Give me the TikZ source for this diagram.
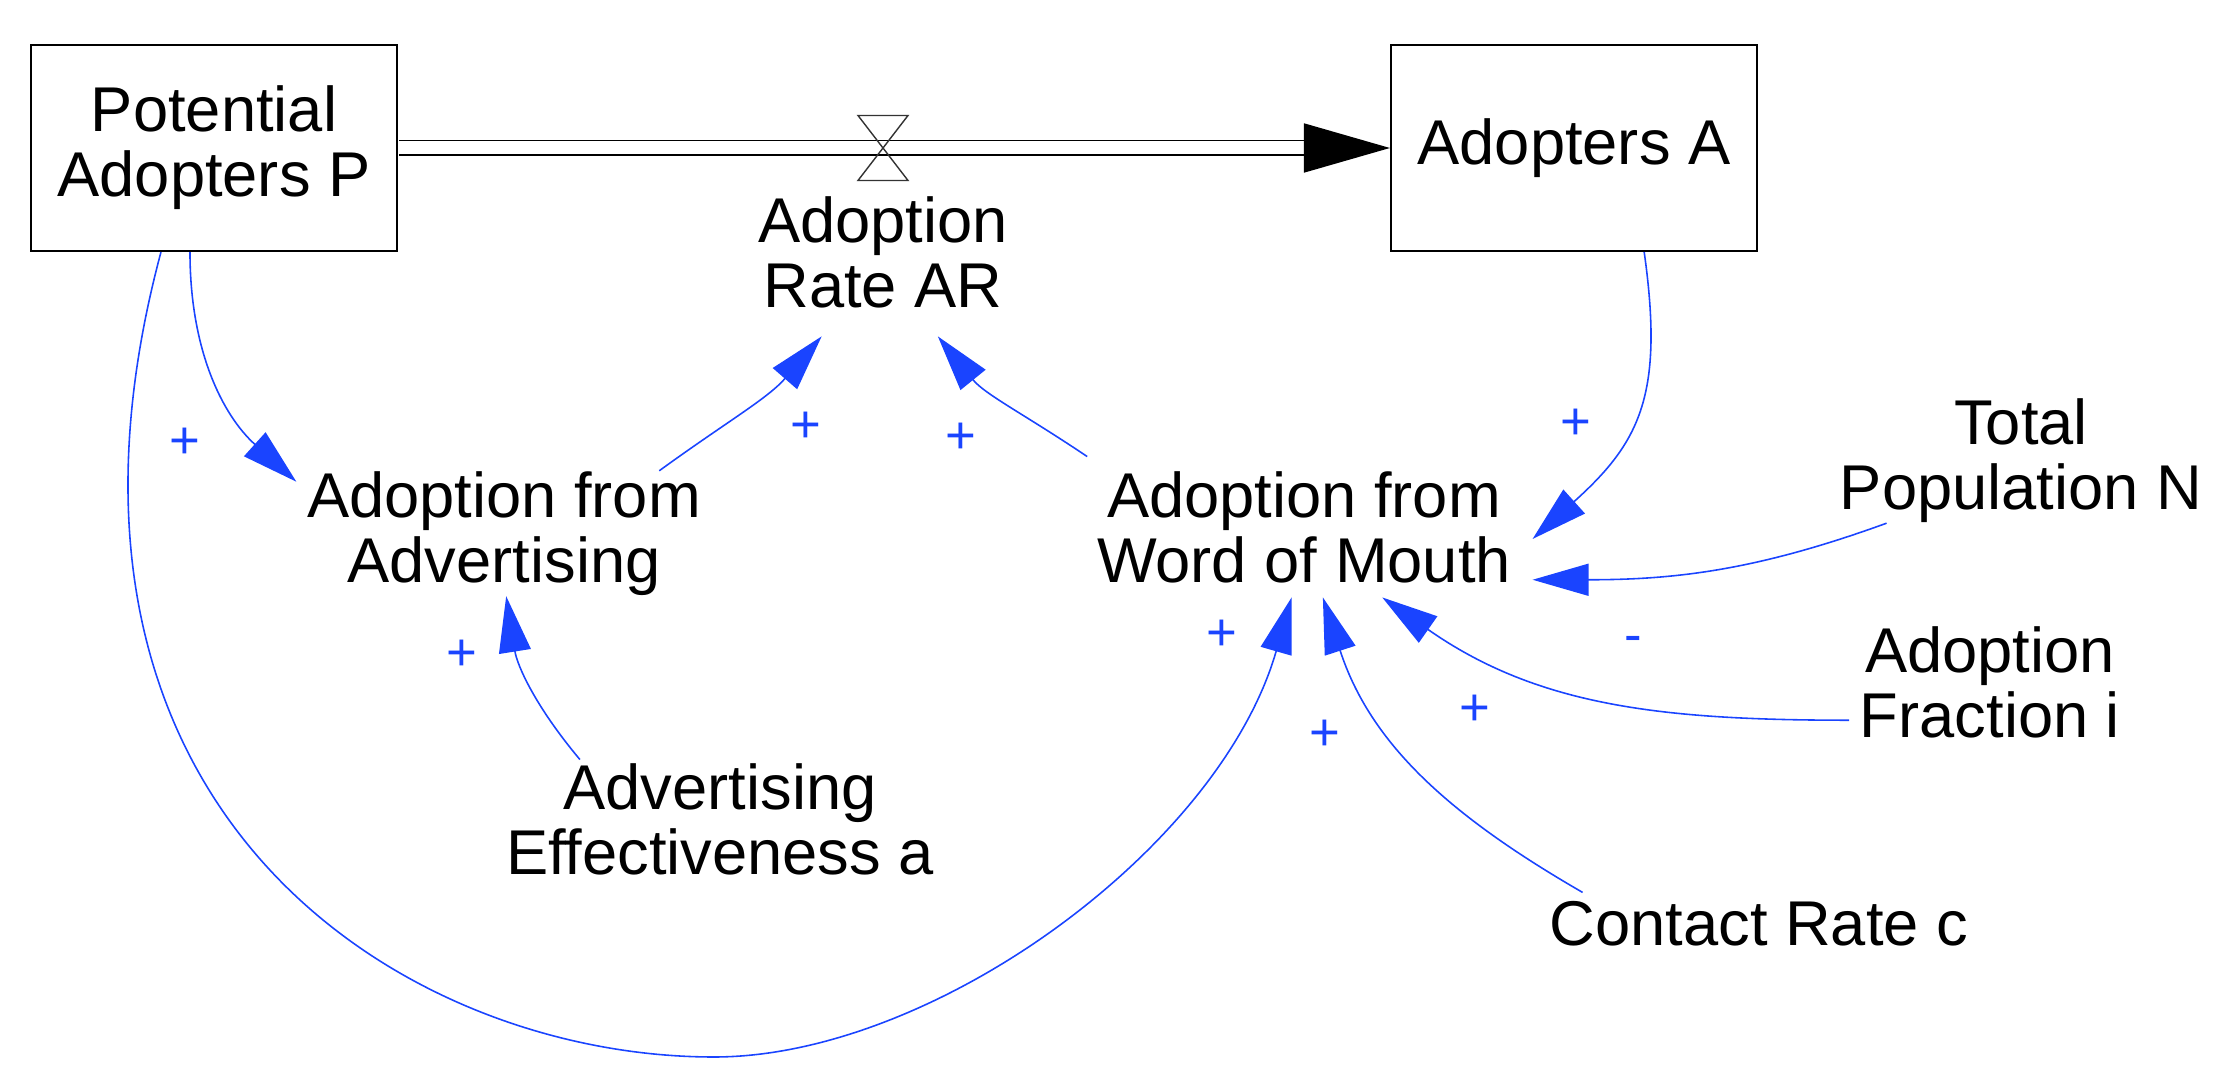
\documentclass[tikz,border=0pt]{standalone}
\usepackage{fontspec}
\setmainfont{Liberation Sans}
\usepackage{xcolor}
\definecolor{linkblue}{HTML}{1A44FF}
\definecolor{valvegray}{HTML}{333333}
\usepackage{tikz}
\usetikzlibrary{arrows.meta, positioning}

\begin{document}
\begin{tikzpicture}[
  stock/.style={draw, line width=0.6pt, minimum width=3.66cm, minimum height=2.06cm,
    align=center, font=\fontsize{18}{18.5}\selectfont},
  var/.style={align=center, inner xsep=0.1cm, inner ysep=0pt,
    font=\fontsize{18}{18.5}\selectfont},
  link/.style={linkblue, line width=0.45pt, -{Triangle[length=0.56cm, width=0.32cm]}},
  pol/.style={text=linkblue, inner sep=0pt, font=\fontsize{15}{15}\selectfont},
  pipe/.style={line width=0.5pt, double distance=0.13cm, shorten <=0.4pt,
    -{Triangle[length=0.86cm, width=0.49cm]}}
]
  \useasboundingbox (0,0) rectangle (22.30,-10.86);

  \node[stock] (stockP) at (2.14,-1.48) {Potential\\Adopters P};
  \node[stock] (stockA) at (15.74,-1.48) {Adopters A};

  \draw[pipe] (stockP.east) -- (stockA.west);
  \coordinate (valve) at (8.83,-1.485);
  \draw[valvegray, line width=0.4pt] (valve) ++(-0.25,0.33) -- ++(0.5,0)
    -- ++(-0.5,-0.65) -- ++(0.5,0) -- cycle;

  \node[var, inner ysep=0.28cm, below=0.19cm of valve] (rateAR) {Adoption\\Rate AR};
  \node[var] (advad) at (5.04,-5.335) {Adoption from\\Advertising};
  \node[var, inner xsep=0.21cm, inner ysep=0.14cm] (wom) at (13.04,-5.27)
    {Adoption from\\Word of Mouth};
  \node[var] (totpop) at (20.21,-4.605) {Total\\Population N};
  \node[var] (frac) at (19.90,-6.825) {Adoption\\Fraction i};
  \node[var, inner ysep=0.08cm] (contact) at (17.59,-9.235) {Contact Rate c};
  \node[var, inner ysep=0.03cm] (adveff) at (7.20,-8.19) {Advertising\\Effectiveness a};
  \coordinate (loopbot) at (7.14,-10.57);

  \draw[link] (stockP.-103) to[out=-90, in=138] (advad.166);
  \draw[link] (advad.22) to[out=36, in=229] (rateAR.-126);
  \draw[link] (wom.162) to[out=146, in=-51] (rateAR.-57);
  \draw[link] (adveff.157) to[out=130, in=-81] (advad.-88);
  \draw[link] (stockP.-117) to[out=-105, in=180, out distance=5.8cm, in distance=3.1cm] (loopbot)
    to[out=0, in=-106, out distance=2.2cm, in distance=2.6cm] (wom.-100);
  \draw[link] (stockA.-56) to[out=-82, in=42, looseness=1.2] (wom.-3);
  \draw[link] (totpop.-155) to[out=-160, in=0] (wom.-13);
  \draw[link] (frac.195) to[out=180, in=-35] (wom.-42);
  \draw[link] (contact.170) to[out=150, in=-72] (wom.-75);

  \node[pol] (pol1) at (1.845,-4.43) {+};
  \node[pol] (pol2) at (8.055,-4.27) {+};
  \node[pol] (pol3) at (9.61,-4.38) {+};
  \node[pol] (pol4) at (15.76,-4.245) {+};
  \node[pol] (pol5) at (4.615,-6.55) {+};
  \node[pol] (pol6) at (12.215,-6.35) {+};
  \node[pol] (pol7) at (14.75,-7.10) {+};
  \node[pol] (pol8) at (13.245,-7.355) {+};
  \node[pol] (pol9) at (16.33,-6.445) {-};
\end{tikzpicture}
\end{document}
